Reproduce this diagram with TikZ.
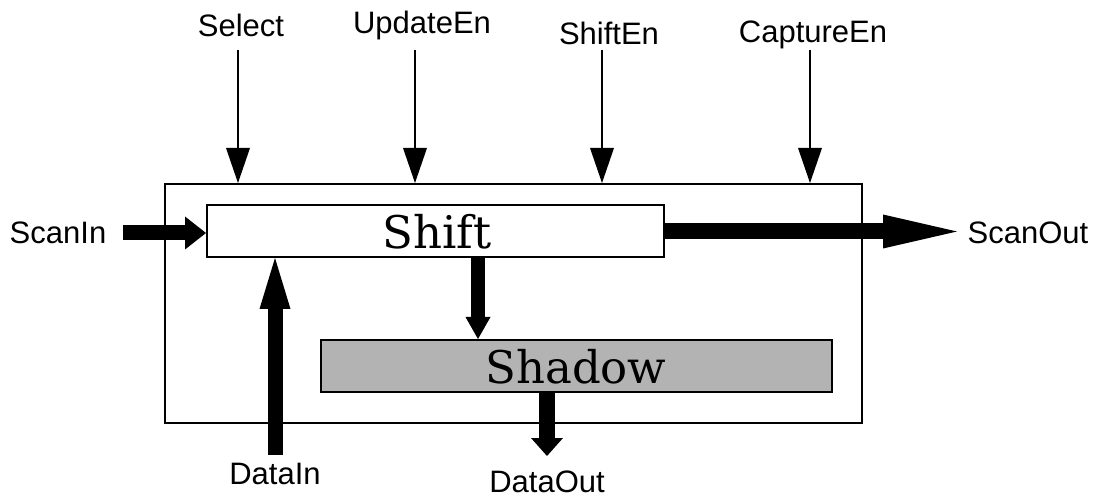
\documentclass[tikz,border=0pt]{standalone}
\usepackage{fontspec}
\setmainfont{Liberation Sans}
\newfontfamily\boxfont{DejaVu Serif}
\usetikzlibrary{arrows.meta}
\definecolor{shadowgray}{RGB}{179,179,179}
\begin{document}
\begin{tikzpicture}[x=1pt,y=-1pt,
  lbl/.style={inner sep=0pt,font=\fontsize{31}{31}\selectfont},
  blk/.style={draw,line width=2pt,inner sep=0pt},
  btxt/.style={inner sep=0pt,font=\boxfont\fontsize{45}{45}\selectfont},
  thin/.style={line width=1.6pt,-{Triangle[width=24pt,length=35pt,line width=0pt]}}]
\useasboundingbox (0,0) rectangle (1096,497);
% blocks
\node[draw,line width=2pt,minimum width=697pt,minimum height=239pt,inner sep=0pt] (outer) at (513.5,303.5) {};
\node[blk,fill=white,minimum width=457pt,minimum height=52pt] (shift) at (435.5,231) {};
\node[btxt] (shifttxt) at (437,232) {Shift};
\node[blk,fill=shadowgray,minimum width=511pt,minimum height=52pt] (shadow) at (576.5,366) {};
\node[btxt] (shadowtxt) at (576,367) {Shadow};
% labels
\node[lbl] (sel) at (241,25) {Select};
\node[lbl] (upd) at (422,25) {UpdateEn};
\node[lbl] (shen) at (609,33) {ShiftEn};
\node[lbl] (cap) at (813,35) {CaptureEn};
\node[lbl] (scanin) at (58,233) {ScanIn};
\node[lbl] (scanout) at (1028,233) {ScanOut};
\node[lbl] (datain) at (275,474) {DataIn};
\node[lbl] (dataout) at (547,482) {DataOut};
% control arrows
\coordinate (c1) at (238,50);
\coordinate (c2) at (415,50);
\coordinate (c3) at (602,50);
\coordinate (c4) at (810,50);
\draw[thin] (c1) -- (c1 |- outer.north);
\draw[thin] (c2) -- (c2 |- outer.north);
\draw[thin] (c3) -- (c3 |- outer.north);
\draw[thin] (c4) -- (c4 |- outer.north);
% scan path
\coordinate (si) at (123,233);
\draw[line width=15pt,-{Triangle[width=33pt,length=21pt,line width=0pt]}] (si) -- (si -| shift.west);
\coordinate (so) at (957,231.5);
\draw[line width=16pt,-{Triangle[width=34pt,length=74pt,line width=0pt]}] (shift.east |- so) -- (so);
% data in
\coordinate (di) at (275,455);
\draw[line width=15pt,-{Triangle[width=31pt,length=51pt,line width=0pt]}] (di) -- (di |- shift.south);
% shift to shadow
\coordinate (ss) at (478,257);
\draw[line width=14pt,-{Triangle[width=25pt,length=22pt,line width=0pt]}] (ss |- shift.south) -- (ss |- shadow.north);
% data out
\coordinate (do) at (547,456);
\draw[line width=16pt,-{Triangle[width=32pt,length=18pt,line width=0pt]}] (do |- shadow.south) -- (do);
\end{tikzpicture}
\end{document}
